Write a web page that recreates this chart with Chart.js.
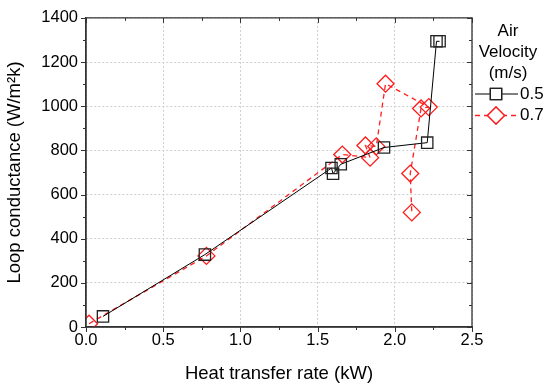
<!DOCTYPE html>
<html lang="en">
<head>
  <meta charset="UTF-8">
  <title>Loop conductance vs heat transfer rate</title>
  <script src="https://cdn.jsdelivr.net/npm/chart.js"></script>
  <style>
    html, body { margin: 0; padding: 0; background: #fff; }
    #wrap { width: 550px; height: 389px; }
  </style>
</head>
<body>
<div id="wrap"><canvas id="chart" width="550" height="389"></canvas></div>
<script>
// heat transfer rate (kW) / loop conductance (W/m2k)
const x05 = [0.11, 0.77, 1.59, 1.60, 1.65, 1.93, 2.21, 2.27, 2.29];
const y05 = [48, 328, 720, 694, 737, 813, 835, 1294, 1294];
const x07 = [0.02, 0.78, 1.66, 1.84, 1.81, 1.88, 1.94, 2.22, 2.17, 2.10, 2.11];
const y07 = [15, 322, 781, 767, 822, 818, 1102, 996, 990, 695, 519];
const seriesNames = ['0.5', '0.7'];
const xTicks = [0, 0.5, 1.0, 1.5, 2.0, 2.5];
const yTicks = [0, 200, 400, 600, 800, 1000, 1200, 1400];

const FONT = "'Liberation Sans', Arial, sans-serif";

function pts(xs, ys) {
  return xs.map((x, i) => ({ x: x, y: ys[i] }));
}

// minor ticks + mirrored axes + legend, drawn like the Origin plot
const decorations = {
  id: 'decorations',
  afterDraw(chart) {
    const ctx = chart.ctx;
    const a = chart.chartArea;
    const xs = chart.scales.x, ys = chart.scales.y;
    ctx.save();
    ctx.strokeStyle = '#333';
    ctx.lineWidth = 1;
    ctx.beginPath();
    for (let v = 0; v <= 2.5001; v += 0.25) {
      const px = Math.round(xs.getPixelForValue(v)) + 0.5;
      const major = Math.abs(v * 2 - Math.round(v * 2)) < 1e-6;
      const len = major ? 5 : 3;
      ctx.moveTo(px, a.bottom); ctx.lineTo(px, a.bottom + len);
      ctx.moveTo(px, a.top); ctx.lineTo(px, a.top + len);
    }
    for (let v = 0; v <= 1400; v += 100) {
      const py = Math.round(ys.getPixelForValue(v)) + 0.5;
      const len = v % 200 === 0 ? 5 : 3;
      ctx.moveTo(a.left, py); ctx.lineTo(a.left - len, py);
      ctx.moveTo(a.right, py); ctx.lineTo(a.right - len, py);
    }
    ctx.stroke();

    // legend
    ctx.fillStyle = '#000';
    ctx.font = '17px ' + FONT;
    ctx.textAlign = 'center';
    ctx.textBaseline = 'middle';
    const cx = 508;
    ['Air', 'Velocity', '(m/s)'].forEach((t, i) => ctx.fillText(t, cx, 31 + i * 21));
    chart.data.datasets.forEach((ds, i) => {
      const y = 94 + i * 21.5;
      ctx.save();
      ctx.strokeStyle = ds.borderColor;
      ctx.lineWidth = ds.borderWidth;
      ctx.setLineDash(ds.borderDash || []);
      ctx.beginPath();
      ctx.moveTo(475, y); ctx.lineTo(518, y);
      ctx.stroke();
      ctx.setLineDash([]);
      ctx.fillStyle = '#fff';
      ctx.lineWidth = ds.pointBorderWidth;
      ctx.strokeStyle = ds.pointBorderColor;
      Chart.helpers.drawPoint(ctx, { pointStyle: ds.pointStyle, radius: ds.pointRadius, borderWidth: ds.pointBorderWidth }, 496, y);
      ctx.fill();
      ctx.stroke();
      ctx.restore();
      ctx.fillStyle = '#000';
      ctx.textAlign = 'left';
      ctx.fillText(seriesNames[i], 520, y);
    });
    ctx.restore();
  }
};

new Chart(document.getElementById('chart'), {
  type: 'scatter',
  data: {
    datasets: [
      {
        label: seriesNames[0],
        data: pts(x05, y05),
        showLine: true,
        borderColor: '#000',
        borderWidth: 1,
        pointStyle: 'rect',
        pointRadius: 8,
        pointHoverRadius: 8,
        pointBorderColor: '#222',
        pointBorderWidth: 1.3,
        pointBackgroundColor: 'rgba(0,0,0,0)'
      },
      {
        label: seriesNames[1],
        data: pts(x07, y07),
        showLine: true,
        borderColor: '#ff2020',
        borderWidth: 1.3,
        borderDash: [5, 4],
        pointStyle: 'rectRot',
        pointRadius: 8.5,
        pointHoverRadius: 8.5,
        pointBorderColor: '#ff1a1a',
        pointBorderWidth: 1.3,
        pointBackgroundColor: 'rgba(0,0,0,0)'
      }
    ]
  },
  options: {
    responsive: false,
    animation: false,
    layout: { padding: { top: 16, right: 78, left: 0, bottom: 0 } },
    plugins: { legend: { display: false }, tooltip: { enabled: false } },
    scales: {
      x: {
        type: 'linear',
        min: 0, max: 2.5,
        afterBuildTicks: s => { s.ticks = xTicks.map(v => ({ value: v })); },
        afterFit: s => { s.height = 62; },
        ticks: {
          color: '#000',
          font: { family: FONT, size: 16.5 },
          padding: 4,
          callback: v => v.toFixed(1)
        },
        grid: { color: '#cfcfcf', lineWidth: 1, drawTicks: false },
        border: { display: true, color: '#333', width: 1.3, dash: [2, 2] },
        title: {
          display: true,
          text: 'Heat transfer rate (kW)',
          color: '#000',
          font: { family: FONT, size: 18.5 },
          padding: { top: 6 }
        }
      },
      y: {
        type: 'linear',
        min: 0, max: 1400,
        afterBuildTicks: s => { s.ticks = yTicks.map(v => ({ value: v })); },
        afterFit: s => { s.width = 86; },
        ticks: {
          color: '#000',
          font: { family: FONT, size: 16.5 },
          padding: 8,
          callback: v => String(v)
        },
        grid: { color: '#cfcfcf', lineWidth: 1, drawTicks: false },
        border: { display: true, color: '#333', width: 1.3, dash: [2, 2] },
        title: {
          display: true,
          text: 'Loop conductance (W/m\u00B2k)',
          color: '#000',
          font: { family: FONT, size: 18.5 },
          padding: { bottom: 4 }
        }
      }
    }
  },
  plugins: [{
    id: 'box',
    afterDraw(chart) {
      const ctx = chart.ctx, a = chart.chartArea;
      ctx.save();
      ctx.strokeStyle = '#333';
      ctx.lineWidth = 1.3;
      ctx.beginPath();
      ctx.moveTo(a.left, a.bottom); ctx.lineTo(a.left, a.top); ctx.lineTo(a.right, a.top);
      ctx.lineTo(a.right, a.bottom); ctx.lineTo(a.left, a.bottom);
      ctx.stroke();
      ctx.restore();
    }
  }, decorations]
});
</script>
</body>
</html>
